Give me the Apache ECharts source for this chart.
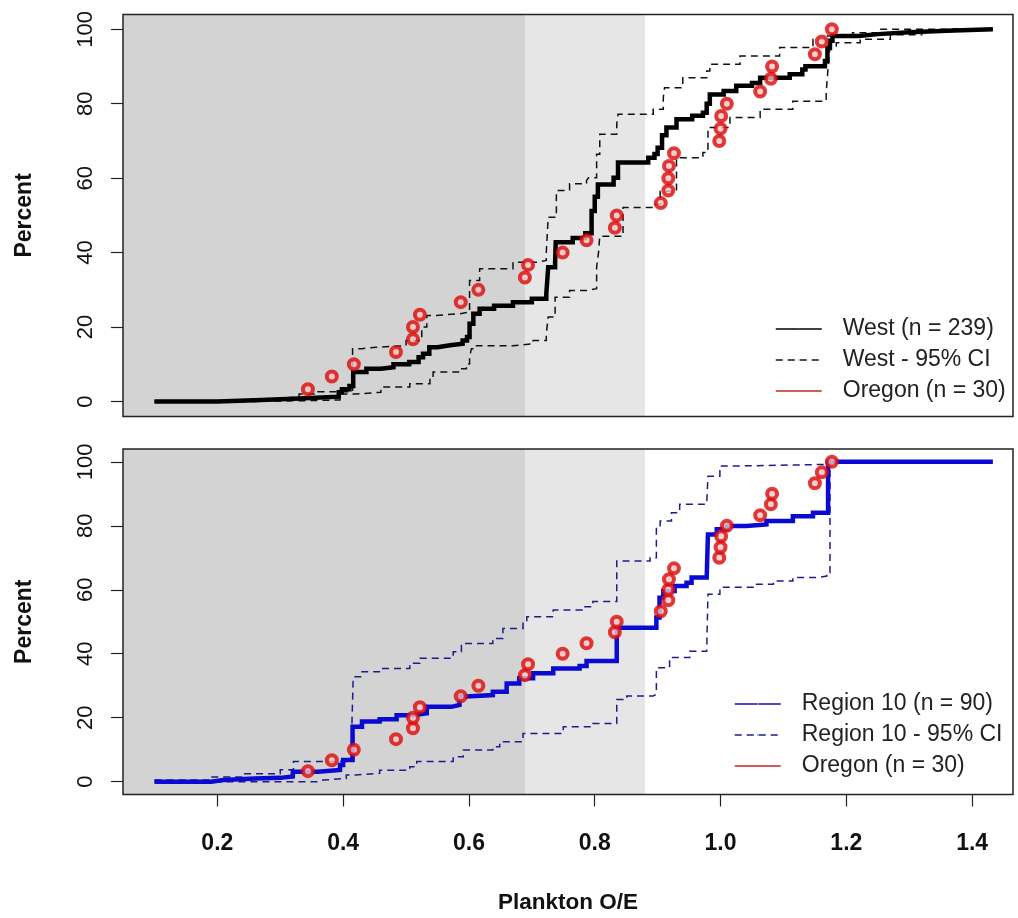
<!DOCTYPE html>
<html>
<head>
<meta charset="utf-8">
<script src="https://cdn.jsdelivr.net/npm/echarts@6/dist/echarts.min.js"></script>
<style>
  html, body { margin: 0; padding: 0; background: #fff; }
  #chart { width: 1018px; height: 918px; }
</style>
</head>
<body>
<div id="chart"></div>
<script>
// Axis ticks
const xTicks = [0.2, 0.4, 0.6, 0.8, 1.0, 1.2, 1.4];
const yTicks = [0, 20, 40, 60, 80, 100];

// Condition bands on the O/E axis (dark: below first edge, light: between edges)
const bandEdges = [0.69, 0.88];

// Oregon sites (n = 30): O/E and cumulative percent
const oregonOE = [0.344, 0.382, 0.417, 0.484, 0.511, 0.511, 0.522, 0.587, 0.615, 0.689,
                  0.694, 0.749, 0.787, 0.832, 0.835, 0.905, 0.917, 0.917, 0.918, 0.926,
                  0.998, 1.000, 1.001, 1.010, 1.063, 1.080, 1.082, 1.150, 1.161, 1.177];
const oregonPct = [3.3, 6.7, 10, 13.3, 16.7, 20, 23.3, 26.7, 30, 33.3,
                   36.7, 40, 43.3, 46.7, 50, 53.3, 56.7, 60, 63.3, 66.7,
                   70, 73.3, 76.7, 80, 83.3, 86.7, 90, 93.3, 96.7, 100];

// West (n = 239) CDF steps
const westOE  = [0.100, 0.20, 0.27, 0.33, 0.393, 0.398, 0.410, 0.416, 0.437, 0.46, 0.48, 0.505, 0.52, 0.527, 0.537, 0.55, 0.57, 0.59,
                 0.597, 0.601, 0.607, 0.617, 0.64, 0.67, 0.70, 0.723, 0.726, 0.737, 0.738, 0.765, 0.785, 0.795, 0.80, 0.805,
                 0.83, 0.837, 0.885, 0.895, 0.90, 0.907, 0.914, 0.93, 0.955, 0.972, 0.978, 0.983, 1.005, 1.025, 1.05, 1.063,
                 1.11, 1.13, 1.135, 1.166, 1.17, 1.174, 1.178, 1.22, 1.25, 1.30, 1.36, 1.433];
const westPct = [0, 0.4, 0.8, 1.3, 2.5, 3.3, 4.2, 7.9, 8.8, 9.2, 10.0, 10.6, 11.9, 12.8, 14.6, 15.1, 15.5, 16.4,
                 17.3, 20.9, 23.6, 24.9, 25.7, 26.7, 27.6, 28.9, 36.1, 37.2, 42.8, 43.9, 45.2, 51.2, 55, 58.3,
                 60.1, 64.2, 65.5, 66.5, 68.2, 71.5, 73.6, 75.8, 76.8, 77.6, 80, 82.5, 83.4, 84.8, 85.6, 87,
                 87.9, 89.2, 90.1, 91.5, 95, 96.9, 98.2, 98.7, 99.2, 99.6, 100, 100];

// West 95% confidence band
const westHiOE  = [0.100, 0.17, 0.23, 0.30, 0.33, 0.36, 0.415, 0.43, 0.453, 0.50, 0.525, 0.533, 0.545, 0.586, 0.601, 0.617,
                   0.67, 0.708, 0.723, 0.726, 0.739, 0.76, 0.787, 0.79, 0.803, 0.808, 0.835, 0.837, 0.893, 0.909, 0.911,
                   0.94, 0.978, 0.983, 1.031, 1.094, 1.147, 1.168, 1.21, 1.25, 1.433];
const westHiPct = [0, 0.4, 0.8, 1.3, 2.0, 2.6, 14.2, 14.6, 15, 16.4, 20, 23.1, 23.6, 24, 32.5, 35.7,
                   37.4, 37.9, 40.1, 49.5, 56.7, 58.5, 59.4, 60.1, 66.4, 71.8, 74.5, 77.2, 78.5, 81.6, 84.3,
                   87, 88.8, 90.6, 92.8, 95.1, 97.3, 98.2, 99.1, 100, 100];
const westLoOE  = [0.100, 0.25, 0.33, 0.395, 0.42, 0.46, 0.506, 0.538, 0.543, 0.585, 0.596, 0.601, 0.604, 0.612, 0.67, 0.702,
                   0.723, 0.726, 0.737, 0.76, 0.787, 0.803, 0.806, 0.808, 0.845, 0.893, 0.904, 0.93, 0.972, 0.98, 1.015,
                   1.063, 1.115, 1.168, 1.171, 1.174, 1.184, 1.222, 1.27, 1.32, 1.37, 1.433];
const westLoPct = [0, 0.2, 0.4, 2.0, 2.5, 3.9, 4.8, 6.5, 7.9, 8.8, 10.1, 11.9, 14.2, 15, 15.5, 16.4,
                   18.2, 22.7, 28, 29.8, 30.3, 36.1, 40, 44.4, 52.1, 53, 56.5, 65.5, 66.9, 73.6, 76.3,
                   78.5, 80.7, 83, 89.7, 95.5, 96.4, 97.3, 98.5, 99.3, 100, 100];

// Region 10 (n = 90) CDF steps
const r10OE  = [0.100, 0.19, 0.21, 0.26, 0.30, 0.32, 0.36, 0.395, 0.40, 0.415, 0.43, 0.458, 0.485, 0.511, 0.533, 0.572,
                0.585, 0.596, 0.638, 0.66, 0.68, 0.702, 0.734, 0.776, 0.787, 0.835, 0.898, 0.903, 0.909, 0.927, 0.946,
                0.954, 0.978, 0.98, 0.994, 1.01, 1.041, 1.073, 1.115, 1.147, 1.171, 1.433];
const r10Pct = [0, 0.5, 1.0, 1.2, 1.6, 3.1, 3.7, 5.2, 6.8, 17.2, 18.8, 19.5, 20.8, 21.4, 23.4, 24,
                26.6, 27.1, 28.1, 30.7, 32.3, 33.9, 35.4, 36.2, 37.7, 48.1, 51.3, 57.5, 59.6, 61.2, 62.2,
                63.8, 64.3, 77.3, 78.9, 79.9, 80.4, 81.5, 83, 84.1, 100, 100];

// Region 10 95% confidence band
const r10HiOE  = [0.100, 0.19, 0.24, 0.30, 0.321, 0.405, 0.413, 0.416, 0.43, 0.46, 0.506, 0.522, 0.575, 0.588, 0.638,
                  0.654, 0.686, 0.692, 0.734, 0.78, 0.797, 0.835, 0.888, 0.898, 0.904, 0.922, 0.935, 0.978, 0.98,
                  0.999, 1.031, 1.174, 1.433];
const r10HiPct = [0.5, 1.5, 2.5, 3.7, 6.3, 6.8, 10.9, 32.8, 34.4, 35.4, 37, 38.6, 40.6, 43.2, 44.8,
                  47.9, 50, 51.6, 53.7, 54.7, 56.3, 69, 70, 79.4, 81.5, 84.1, 86.7, 87.2, 95.5,
                  98.7, 99.2, 100, 100];
const r10LoOE  = [0.100, 0.25, 0.363, 0.368, 0.405, 0.42, 0.458, 0.506, 0.517, 0.575, 0.591, 0.638, 0.649, 0.686, 0.75,
                  0.797, 0.835, 0.851, 0.893, 0.898, 0.919, 0.951, 0.978, 0.98, 0.999, 1.052, 1.084, 1.115, 1.153,
                  1.169, 1.174, 1.433];
const r10LoPct = [0, 0, 0.5, 1.0, 2.1, 2.6, 3.6, 4.7, 6.3, 7.8, 9.9, 10.9, 12.5, 15.1, 17.2,
                  18.2, 25.7, 26.8, 27.3, 35.6, 38.8, 40.8, 41.4, 58.6, 60.8, 61.7, 62.7, 63.8, 64.3,
                  65.3, 100, 100];

const X_MIN = 0.05, X_MAX = 1.465, Y_MIN = -4, Y_MAX = 104;
const pairs = (xs, ys) => xs.map((x, i) => [x, ys[i]]);

const FONT = '"Liberation Sans", Arial, sans-serif';
const RED = '#dc0a0a';

function bandSeries(idx) {
  return {
    type: 'line', data: [], xAxisIndex: idx, yAxisIndex: idx, silent: true, z: 1,
    markArea: {
      silent: true,
      data: [
        [{ coord: [X_MIN, Y_MIN], itemStyle: { color: '#d3d3d3' } }, { coord: [bandEdges[0], Y_MAX] }],
        [{ coord: [bandEdges[0], Y_MIN], itemStyle: { color: '#e6e6e6' } }, { coord: [bandEdges[1], Y_MAX] }]
      ]
    }
  };
}
function stepSeries(name, idx, xs, ys, color, width, dashed) {
  return {
    name, type: 'line', step: 'end', xAxisIndex: idx, yAxisIndex: idx, z: 3,
    data: pairs(xs, ys), symbol: 'none', showSymbol: false, silent: true,
    lineStyle: { color, width, type: dashed ? [7, 5] : 'solid', cap: 'butt', join: 'miter' }
  };
}
function oregonSeries(idx) {
  return {
    name: 'Oregon (n = 30)', type: 'scatter', xAxisIndex: idx, yAxisIndex: idx, z: 5,
    data: pairs(oregonOE, oregonPct), symbol: 'circle', symbolSize: 10, silent: true,
    itemStyle: { color: '#f2c4c4', borderColor: RED, borderWidth: 4 }
  };
}
function xAxis(idx, showLabels) {
  return {
    type: 'value', gridIndex: idx, min: X_MIN, max: X_MAX,
    splitLine: { show: false }, axisLine: { show: false, onZero: false },
    axisTick: { show: showLabels, inside: false, customValues: xTicks, length: 12, lineStyle: { color: '#222', width: 1.2 } },
    axisLabel: { show: showLabels, customValues: xTicks, margin: 38, fontSize: 23, fontWeight: 'bold',
                 fontFamily: FONT, color: '#111', formatter: v => v.toFixed(1) },
    name: showLabels ? 'Plankton O/E' : '', nameLocation: 'middle', nameGap: 97,
    nameTextStyle: { fontSize: 22.5, fontWeight: 'bold', fontFamily: FONT, color: '#111' }
  };
}
function yAxis(idx) {
  return {
    type: 'value', gridIndex: idx, min: Y_MIN, max: Y_MAX,
    splitLine: { show: false }, axisLine: { show: false, onZero: false },
    axisTick: { show: true, customValues: yTicks, length: 12, lineStyle: { color: '#222', width: 1.2 } },
    axisLabel: { customValues: yTicks, rotate: 90, margin: 26, fontSize: 22, fontFamily: FONT, color: '#111' },
    name: 'Percent', nameLocation: 'middle', nameRotate: 90, nameGap: 87,
    nameTextStyle: { fontSize: 23, fontWeight: 'bold', fontFamily: FONT, color: '#111' }
  };
}
function legend(left, top, names) {
  return {
    orient: 'vertical', left, top, itemWidth: 46, itemHeight: 2, itemGap: 5, selectedMode: false,
    lineStyle: { width: 1.5 },
    textStyle: { fontSize: 23, fontFamily: FONT, color: '#222', padding: [0, 0, 0, 16], lineHeight: 26 },
    data: [
      { name: names[0] },
      { name: names[1] },
      { name: 'Oregon (n = 30)', icon: 'rect', itemStyle: { color: '#c83232', borderWidth: 0 } }
    ]
  };
}

const chart = echarts.init(document.getElementById('chart'), null, { renderer: 'canvas' });
chart.setOption({
  backgroundColor: '#fff',
  animation: false,
  grid: [
    { left: 123, top: 14.4, width: 890, height: 402, show: true, borderColor: '#222', borderWidth: 1.5, z: 10 },
    { left: 123, top: 449, width: 890, height: 345.5, show: true, borderColor: '#222', borderWidth: 1.5, z: 10 }
  ],
  xAxis: [xAxis(0, false), xAxis(1, true)],
  yAxis: [yAxis(0), yAxis(1)],
  legend: [
    legend(770, 311, ['West (n = 239)', 'West - 95% CI']),
    legend(729, 686, ['Region 10 (n = 90)', 'Region 10 - 95% CI'])
  ],
  series: [
    bandSeries(0),
    stepSeries('West - 95% CI', 0, westHiOE, westHiPct, '#111', 1.5, true),
    stepSeries('West - 95% CI', 0, westLoOE, westLoPct, '#111', 1.5, true),
    stepSeries('West (n = 239)', 0, westOE, westPct, '#000', 4.5, false),
    oregonSeries(0),
    bandSeries(1),
    stepSeries('Region 10 - 95% CI', 1, r10HiOE, r10HiPct, '#1c1c8c', 1.5, true),
    stepSeries('Region 10 - 95% CI', 1, r10LoOE, r10LoPct, '#1c1c8c', 1.5, true),
    stepSeries('Region 10 (n = 90)', 1, r10OE, r10Pct, '#0a0ad2', 4.5, false),
    oregonSeries(1)
  ]
});
</script>
</body>
</html>
